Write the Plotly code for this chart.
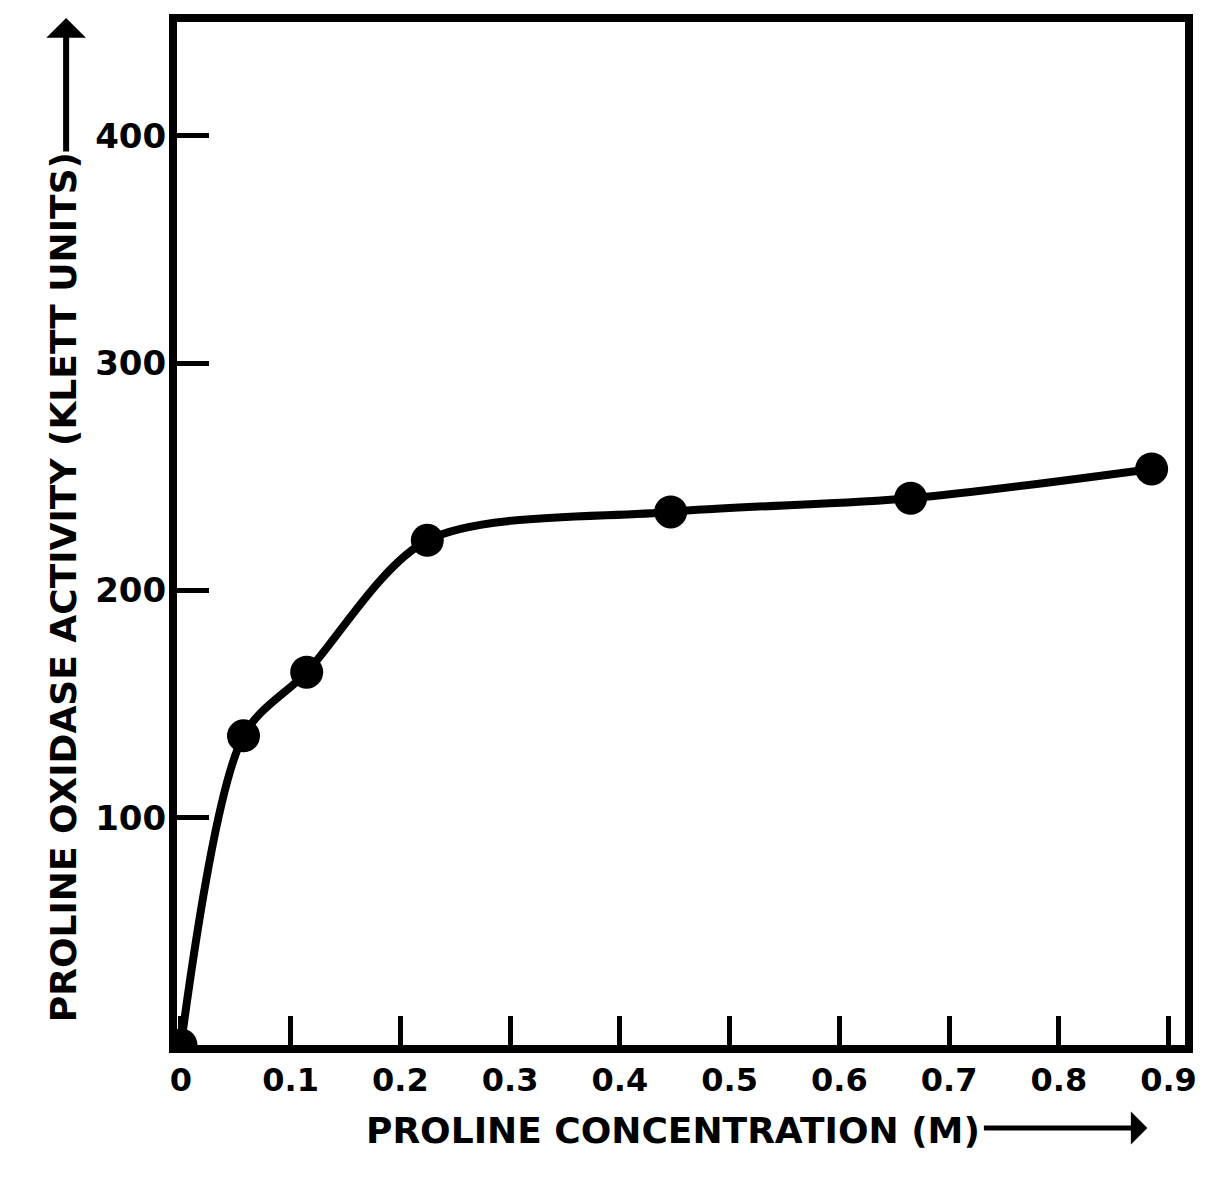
import plotly.graph_objects as go

# Data
concentration = [0.0, 0.057, 0.1146, 0.2245, 0.4463, 0.665, 0.8846]
activity = [0, 136, 164, 222, 234.5, 240.5, 253.4]

x_tick_vals = [0, 0.1, 0.2, 0.3, 0.4, 0.5, 0.6, 0.7, 0.8, 0.9]
x_tick_text = ["0", "0.1", "0.2", "0.3", "0.4", "0.5", "0.6", "0.7", "0.8", "0.9"]
y_tick_vals = [100, 200, 300, 400]
y_tick_text = ["100", "200", "300", "400"]

x_title = "PROLINE CONCENTRATION (M)"
y_title = "PROLINE OXIDASE ACTIVITY (KLETT UNITS)"

FONT = "DejaVu Sans"

fig = go.Figure()
fig.add_trace(go.Scatter(
    x=concentration, y=activity,
    mode="lines+markers",
    line=dict(color="black", width=8, shape="spline", smoothing=0.85),
    marker=dict(color="black", size=33, symbol="circle"),
    showlegend=False,
))

axis_common = dict(
    showline=True, linecolor="black", linewidth=8, mirror=True,
    showgrid=False, zeroline=False,
    ticks="inside", tickcolor="black", tickwidth=5,
)

fig.update_layout(
    width=1209, height=1184,
    margin=dict(l=177, r=13, t=22, b=139),
    paper_bgcolor="white", plot_bgcolor="white",
    xaxis=dict(range=[-0.0036, 0.915], tickvals=x_tick_vals, ticktext=x_tick_text,
               ticklen=29,
               tickfont=dict(family=FONT, size=32, color="black", weight="bold"),
               **axis_common),
    yaxis=dict(range=[0, 450], tickvals=y_tick_vals, ticktext=y_tick_text,
               ticklen=32, ticklabelstandoff=-4,
               tickfont=dict(family=FONT, size=34, color="black", weight="bold"),
               **axis_common),
)

# Axis titles
fig.add_annotation(
    text=x_title, xref="paper", yref="paper", x=0.4917, y=-0.0831,
    xanchor="center", yanchor="middle", showarrow=False,
    font=dict(family=FONT, size=36, color="black", weight="bold"),
)
fig.add_annotation(
    text=y_title, xref="paper", yref="paper", x=-0.1129, y=0.4477,
    xanchor="center", yanchor="middle", textangle=-90, showarrow=False,
    font=dict(family=FONT, size=36, color="black", weight="bold"),
)
# Arrows
fig.add_annotation(
    xref="paper", yref="paper", x=0.9627, y=-0.0811, ax=-165, ay=0,
    text="", showarrow=True, arrowhead=1, arrowsize=1.1, arrowwidth=5, arrowcolor="black",
)
fig.add_annotation(
    xref="paper", yref="paper", x=-0.110, y=1.004, ax=0, ay=135,
    text="", showarrow=True, arrowhead=1, arrowsize=1.1, arrowwidth=6, arrowcolor="black",
)

fig.write_html("out.html")
